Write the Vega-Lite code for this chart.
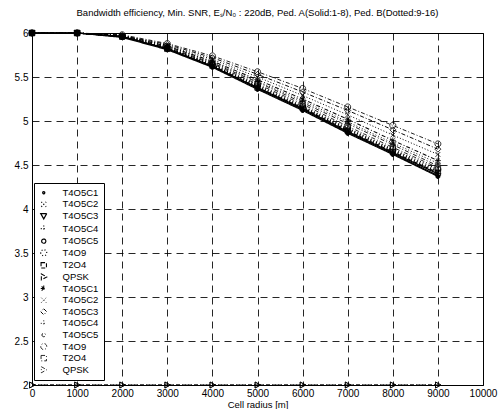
{
  "$schema": "https://vega.github.io/schema/vega-lite/v6.json",
  "width": 451,
  "height": 352,
  "autosize": "none",
  "padding": {"left": 32, "top": 33, "right": 21, "bottom": 24},
  "background": "white",
  "title": {"text": "Bandwidth efficiency, Min. SNR, Eₛ/N₀ : 220dB, Ped. A(Solid:1-8), Ped. B(Dotted:9-16)", "font": "Liberation Sans", "fontSize": 9.5, "fontWeight": "normal", "color": "black", "offset": 11, "anchor": "middle"},
  "config": {
    "view": {"stroke": "black", "strokeWidth": 1},
    "axis": {"domain": false, "ticks": false, "grid": true, "gridColor": "black", "gridDash": [7, 5], "gridOpacity": 0.85, "gridWidth": 1, "labelFont": "Liberation Sans", "labelFontSize": 10, "labelColor": "black", "titleFont": "Liberation Sans", "titleFontSize": 9.5, "titleFontWeight": "normal", "titleColor": "black"},
    "legend": {
      "orient": "none", "legendX": 2, "legendY": 150, "title": null,
      "fillColor": "white", "strokeColor": "black", "padding": 5,
      "labelFont": "Liberation Sans", "labelFontSize": 9.5, "labelColor": "black",
      "symbolSize": 36, "labelOffset": 14, "rowPadding": 0.6
    }
  },
  "data": {"values": [
    {"s":"A:T4O5C1","x":0,"y":6},{"s":"A:T4O5C1","x":1000,"y":6},{"s":"A:T4O5C1","x":2000,"y":5.96},{"s":"A:T4O5C1","x":3000,"y":5.82},{"s":"A:T4O5C1","x":4000,"y":5.62},{"s":"A:T4O5C1","x":5000,"y":5.38},{"s":"A:T4O5C1","x":6000,"y":5.14},{"s":"A:T4O5C1","x":7000,"y":4.88},{"s":"A:T4O5C1","x":8000,"y":4.64},{"s":"A:T4O5C1","x":9000,"y":4.40},
    {"s":"A:T4O5C2","x":0,"y":6},{"s":"A:T4O5C2","x":1000,"y":6},{"s":"A:T4O5C2","x":2000,"y":5.96},{"s":"A:T4O5C2","x":3000,"y":5.83},{"s":"A:T4O5C2","x":4000,"y":5.63},{"s":"A:T4O5C2","x":5000,"y":5.39},{"s":"A:T4O5C2","x":6000,"y":5.15},{"s":"A:T4O5C2","x":7000,"y":4.90},{"s":"A:T4O5C2","x":8000,"y":4.66},{"s":"A:T4O5C2","x":9000,"y":4.42},
    {"s":"A:T4O5C3","x":0,"y":6},{"s":"A:T4O5C3","x":1000,"y":6},{"s":"A:T4O5C3","x":2000,"y":5.96},{"s":"A:T4O5C3","x":3000,"y":5.82},{"s":"A:T4O5C3","x":4000,"y":5.62},{"s":"A:T4O5C3","x":5000,"y":5.37},{"s":"A:T4O5C3","x":6000,"y":5.13},{"s":"A:T4O5C3","x":7000,"y":4.87},{"s":"A:T4O5C3","x":8000,"y":4.63},{"s":"A:T4O5C3","x":9000,"y":4.38},
    {"s":"A:T4O5C4","x":0,"y":6},{"s":"A:T4O5C4","x":1000,"y":6},{"s":"A:T4O5C4","x":2000,"y":5.96},{"s":"A:T4O5C4","x":3000,"y":5.83},{"s":"A:T4O5C4","x":4000,"y":5.64},{"s":"A:T4O5C4","x":5000,"y":5.40},{"s":"A:T4O5C4","x":6000,"y":5.16},{"s":"A:T4O5C4","x":7000,"y":4.91},{"s":"A:T4O5C4","x":8000,"y":4.67},{"s":"A:T4O5C4","x":9000,"y":4.43},
    {"s":"A:T4O5C5","x":0,"y":6},{"s":"A:T4O5C5","x":1000,"y":6},{"s":"A:T4O5C5","x":2000,"y":5.95},{"s":"A:T4O5C5","x":3000,"y":5.81},{"s":"A:T4O5C5","x":4000,"y":5.61},{"s":"A:T4O5C5","x":5000,"y":5.36},{"s":"A:T4O5C5","x":6000,"y":5.12},{"s":"A:T4O5C5","x":7000,"y":4.86},{"s":"A:T4O5C5","x":8000,"y":4.62},{"s":"A:T4O5C5","x":9000,"y":4.37},
    {"s":"A:T4O9","x":0,"y":6},{"s":"A:T4O9","x":1000,"y":6},{"s":"A:T4O9","x":2000,"y":5.96},{"s":"A:T4O9","x":3000,"y":5.83},{"s":"A:T4O9","x":4000,"y":5.64},{"s":"A:T4O9","x":5000,"y":5.41},{"s":"A:T4O9","x":6000,"y":5.17},{"s":"A:T4O9","x":7000,"y":4.92},{"s":"A:T4O9","x":8000,"y":4.68},{"s":"A:T4O9","x":9000,"y":4.45},
    {"s":"A:T2O4","x":0,"y":6},{"s":"A:T2O4","x":1000,"y":6},{"s":"A:T2O4","x":2000,"y":5.96},{"s":"A:T2O4","x":3000,"y":5.82},{"s":"A:T2O4","x":4000,"y":5.63},{"s":"A:T2O4","x":5000,"y":5.38},{"s":"A:T2O4","x":6000,"y":5.15},{"s":"A:T2O4","x":7000,"y":4.89},{"s":"A:T2O4","x":8000,"y":4.65},{"s":"A:T2O4","x":9000,"y":4.41},
    {"s":"A:QPSK","x":0,"y":2},{"s":"A:QPSK","x":1000,"y":2},{"s":"A:QPSK","x":2000,"y":2},{"s":"A:QPSK","x":3000,"y":2},{"s":"A:QPSK","x":4000,"y":2},{"s":"A:QPSK","x":5000,"y":2},{"s":"A:QPSK","x":6000,"y":2},{"s":"A:QPSK","x":7000,"y":2},{"s":"A:QPSK","x":8000,"y":2},{"s":"A:QPSK","x":9000,"y":2},
    {"s":"B:T4O5C1","x":0,"y":6},{"s":"B:T4O5C1","x":1000,"y":6},{"s":"B:T4O5C1","x":2000,"y":5.97},{"s":"B:T4O5C1","x":3000,"y":5.85},{"s":"B:T4O5C1","x":4000,"y":5.68},{"s":"B:T4O5C1","x":5000,"y":5.47},{"s":"B:T4O5C1","x":6000,"y":5.25},{"s":"B:T4O5C1","x":7000,"y":5.02},{"s":"B:T4O5C1","x":8000,"y":4.78},{"s":"B:T4O5C1","x":9000,"y":4.55},
    {"s":"B:T4O5C2","x":0,"y":6},{"s":"B:T4O5C2","x":1000,"y":6},{"s":"B:T4O5C2","x":2000,"y":5.97},{"s":"B:T4O5C2","x":3000,"y":5.86},{"s":"B:T4O5C2","x":4000,"y":5.70},{"s":"B:T4O5C2","x":5000,"y":5.50},{"s":"B:T4O5C2","x":6000,"y":5.29},{"s":"B:T4O5C2","x":7000,"y":5.07},{"s":"B:T4O5C2","x":8000,"y":4.84},{"s":"B:T4O5C2","x":9000,"y":4.62},
    {"s":"B:T4O5C3","x":0,"y":6},{"s":"B:T4O5C3","x":1000,"y":6},{"s":"B:T4O5C3","x":2000,"y":5.97},{"s":"B:T4O5C3","x":3000,"y":5.87},{"s":"B:T4O5C3","x":4000,"y":5.72},{"s":"B:T4O5C3","x":5000,"y":5.53},{"s":"B:T4O5C3","x":6000,"y":5.33},{"s":"B:T4O5C3","x":7000,"y":5.12},{"s":"B:T4O5C3","x":8000,"y":4.90},{"s":"B:T4O5C3","x":9000,"y":4.68},
    {"s":"B:T4O5C4","x":0,"y":6},{"s":"B:T4O5C4","x":1000,"y":6},{"s":"B:T4O5C4","x":2000,"y":5.97},{"s":"B:T4O5C4","x":3000,"y":5.85},{"s":"B:T4O5C4","x":4000,"y":5.67},{"s":"B:T4O5C4","x":5000,"y":5.45},{"s":"B:T4O5C4","x":6000,"y":5.23},{"s":"B:T4O5C4","x":7000,"y":4.99},{"s":"B:T4O5C4","x":8000,"y":4.75},{"s":"B:T4O5C4","x":9000,"y":4.52},
    {"s":"B:T4O5C5","x":0,"y":6},{"s":"B:T4O5C5","x":1000,"y":6},{"s":"B:T4O5C5","x":2000,"y":5.96},{"s":"B:T4O5C5","x":3000,"y":5.84},{"s":"B:T4O5C5","x":4000,"y":5.66},{"s":"B:T4O5C5","x":5000,"y":5.44},{"s":"B:T4O5C5","x":6000,"y":5.21},{"s":"B:T4O5C5","x":7000,"y":4.97},{"s":"B:T4O5C5","x":8000,"y":4.73},{"s":"B:T4O5C5","x":9000,"y":4.49},
    {"s":"B:T4O9","x":0,"y":6},{"s":"B:T4O9","x":1000,"y":6},{"s":"B:T4O9","x":2000,"y":5.98},{"s":"B:T4O9","x":3000,"y":5.88},{"s":"B:T4O9","x":4000,"y":5.74},{"s":"B:T4O9","x":5000,"y":5.56},{"s":"B:T4O9","x":6000,"y":5.37},{"s":"B:T4O9","x":7000,"y":5.16},{"s":"B:T4O9","x":8000,"y":4.95},{"s":"B:T4O9","x":9000,"y":4.74},
    {"s":"B:T2O4","x":0,"y":6},{"s":"B:T2O4","x":1000,"y":6},{"s":"B:T2O4","x":2000,"y":5.96},{"s":"B:T2O4","x":3000,"y":5.83},{"s":"B:T2O4","x":4000,"y":5.65},{"s":"B:T2O4","x":5000,"y":5.42},{"s":"B:T2O4","x":6000,"y":5.19},{"s":"B:T2O4","x":7000,"y":4.94},{"s":"B:T2O4","x":8000,"y":4.70},{"s":"B:T2O4","x":9000,"y":4.47},
    {"s":"B:QPSK","x":0,"y":2},{"s":"B:QPSK","x":1000,"y":2},{"s":"B:QPSK","x":2000,"y":2},{"s":"B:QPSK","x":3000,"y":2},{"s":"B:QPSK","x":4000,"y":2},{"s":"B:QPSK","x":5000,"y":2},{"s":"B:QPSK","x":6000,"y":2},{"s":"B:QPSK","x":7000,"y":2},{"s":"B:QPSK","x":8000,"y":2},{"s":"B:QPSK","x":9000,"y":2}
  ]},
  "encoding": {
    "x": {"field": "x", "type": "quantitative", "scale": {"domain": [0, 10000], "nice": false, "zero": false}, "axis": {"values": [0,1000,2000,3000,4000,5000,6000,7000,8000,9000,10000], "format": "d", "title": "Cell radius [m]", "labelPadding": 3, "titlePadding": 1, "labelFlush": false}},
    "y": {"field": "y", "type": "quantitative", "scale": {"domain": [2, 6], "nice": false, "zero": false}, "axis": {"values": [2,2.5,3,3.5,4,4.5,5,5.5,6], "format": "~g", "title": null, "labelPadding": 4, "labelFlush": false}}
  },
  "layer": [
    {
      "mark": {"type": "line", "stroke": "black", "clip": false},
      "encoding": {
        "detail": {"field": "s"},
        "strokeDash": {"field": "s", "type": "nominal", "scale": {
          "domain": ["A:T4O5C1","A:T4O5C2","A:T4O5C3","A:T4O5C4","A:T4O5C5","A:T4O9","A:T2O4","A:QPSK","B:T4O5C1","B:T4O5C2","B:T4O5C3","B:T4O5C4","B:T4O5C5","B:T4O9","B:T2O4","B:QPSK"],
          "range": [[1,0],[1,2],[1,0],[1,2],[1,0],[1,2],[4,2],[4,2],[4,2,1,2],[1,2],[4,2,1,2],[1,2],[4,2,1,2],[4,2,1,2],[4,2,1,2],[4,2,1,2]]},
          "legend": {"labelExpr": "slice(datum.label, 2)"}},
        "strokeWidth": {"field": "s", "type": "nominal", "scale": {
          "domain": ["A:T4O5C1","A:T4O5C2","A:T4O5C3","A:T4O5C4","A:T4O5C5","A:T4O9","A:T2O4","A:QPSK","B:T4O5C1","B:T4O5C2","B:T4O5C3","B:T4O5C4","B:T4O5C5","B:T4O9","B:T2O4","B:QPSK"],
          "range": [1.3,0.8,1.3,0.8,1.5,0.8,1.1,1,0.8,0.7,0.8,0.7,0.8,0.8,0.8,0.8]},
          "legend": {"labelExpr": "slice(datum.label, 2)"}}
      }
    },
    {
      "mark": {"type": "point", "stroke": "black", "strokeWidth": 0.8, "size": 36, "opacity": 1, "clip": false},
      "encoding": {
        "shape": {"field": "s", "type": "nominal", "scale": {
          "domain": ["A:T4O5C1","A:T4O5C2","A:T4O5C3","A:T4O5C4","A:T4O5C5","A:T4O9","A:T2O4","A:QPSK","B:T4O5C1","B:T4O5C2","B:T4O5C3","B:T4O5C4","B:T4O5C5","B:T4O9","B:T2O4","B:QPSK"],
          "range": [
            "M-0.35,0A0.35,0.35 0 1,0 0.35,0A0.35,0.35 0 1,0 -0.35,0Z",
            "M-0.8,-0.8L0.8,0.8M-0.8,0.8L0.8,-0.8",
            "M-1,-0.8L1,-0.8L0,1Z",
            "M-1,0H1M0,-1V1",
            "M-0.7,0A0.7,0.7 0 1,0 0.7,0A0.7,0.7 0 1,0 -0.7,0Z",
            "M-1,0A1,1 0 1,0 1,0A1,1 0 1,0 -1,0Z",
            "M-0.9,-0.9H0.9V0.9H-0.9Z",
            "M-0.8,-1L1,0L-0.8,1Z",
            "M-1,0H1M0,-1V1M-0.7,-0.7L0.7,0.7M-0.7,0.7L0.7,-0.7",
            "M-0.8,-0.8L0.8,0.8M-0.8,0.8L0.8,-0.8",
            "M0,-1L1,0L0,1L-1,0Z",
            "M-1,0H1M0,-1V1",
            "M-0.6,0A0.6,0.6 0 1,0 0.6,0A0.6,0.6 0 1,0 -0.6,0Z",
            "M-1,0A1,1 0 1,0 1,0A1,1 0 1,0 -1,0Z",
            "M-0.9,-0.9H0.9V0.9H-0.9Z",
            "M-0.8,-1L1,0L-0.8,1Z"
          ]},
          "legend": {"labelExpr": "slice(datum.label, 2)"}
        },
        "fill": {"condition": {"test": "indexof(['A:T4O5C1','A:T4O5C5','B:T4O5C1'], datum.s) >= 0", "value": "black"}, "value": "transparent"}
      }
    }
  ]
}
